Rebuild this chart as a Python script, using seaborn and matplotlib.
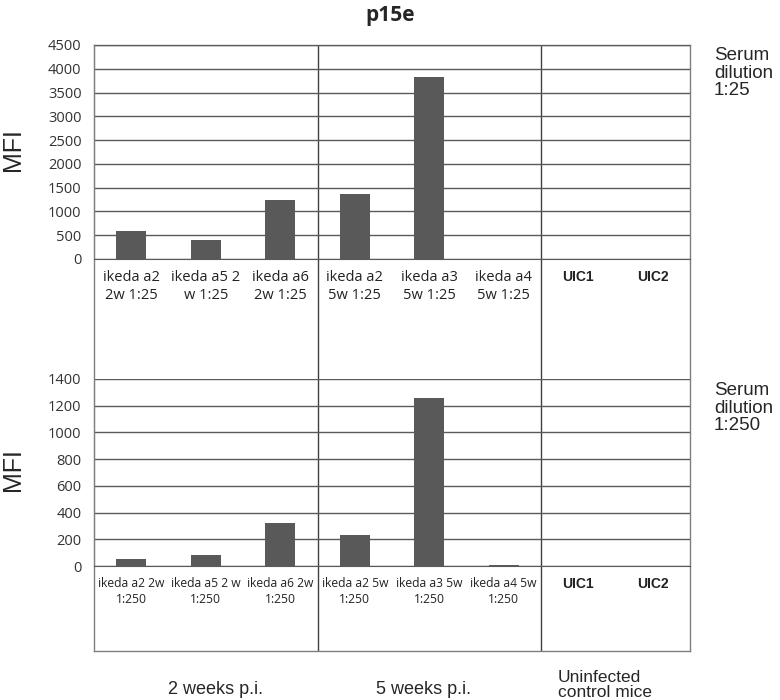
import numpy as np
import pandas as pd
import matplotlib
matplotlib.use("Agg")
import matplotlib.pyplot as plt
import seaborn as sns

# Datos
labels_125 = ["ikeda a2\n2w 1:25", "ikeda a5 2\nw 1:25", "ikeda a6\n2w 1:25",
              "ikeda a2\n5w 1:25", "ikeda a3\n5w 1:25", "ikeda a4\n5w 1:25",
              "UIC1", "UIC2"]
mfi_125 = [580, 390, 1240, 1360, 3830, 10, 0, 0]

labels_1250 = ["ikeda a2 2w\n1:250", "ikeda a5 2 w\n1:250", "ikeda a6 2w\n1:250",
               "ikeda a2 5w\n1:250", "ikeda a3 5w\n1:250", "ikeda a4 5w\n1:250",
               "UIC1", "UIC2"]
mfi_1250 = [55, 85, 325, 235, 1255, 5, 3, 3]

ticks_125 = np.arange(0, 4501, 500)
ticks_1250 = np.arange(0, 1401, 200)

groups = ["2 weeks p.i.", "5 weeks p.i.", "Uninfected\ncontrol mice"]

sns.set_style("white")
plt.rcParams['font.family'] = ['Open Sans', 'DejaVu Sans']

W, H = 780, 700
fig = plt.figure(figsize=(W / 100, H / 100), dpi=100)


def rect(x0, y0, x1, y1):
    return [x0 / W, 1 - y1 / H, (x1 - x0) / W, (y1 - y0) / H]


bar_color = "#595959"
grid_color = "#5a5a5a"
sep_color = "#404040"

# Marco general con separadores de grupo
frame = fig.add_axes(rect(94, 45, 690, 651))
frame.set_xlim(-0.5, 7.5)
frame.set_ylim(0, 1)
frame.set_xticks([])
frame.set_yticks([])
for s in frame.spines.values():
    s.set_color("#7f7f7f")
    s.set_linewidth(1)
for xb in [2.5, 5.5]:
    frame.axvline(xb, color=sep_color, lw=1)


def panel(box, labels, values, ticks, fs):
    ax = fig.add_axes(rect(*box))
    ax.patch.set_alpha(0)
    df = pd.DataFrame({"cat": labels, "mfi": values})
    sns.barplot(data=df, x="cat", y="mfi", order=labels, color=bar_color,
                width=0.4, saturation=1, linewidth=0, ax=ax)
    ax.set_xlim(-0.5, 7.5)
    ax.set_ylim(ticks[0], ticks[-1])
    ax.set_yticks(ticks)
    ax.set_xlabel("")
    ax.set_ylabel("")
    for t in ticks:
        ax.axhline(t, color=grid_color, lw=1, zorder=0)
    ax.set_xticks(np.arange(-0.5, 8, 1), minor=True)
    ax.tick_params(axis="x", which="major", length=0, pad=8)
    ax.tick_params(axis="x", which="minor", length=4, direction="out",
                   color=grid_color, width=1)
    ax.tick_params(axis="y", length=4, direction="out", color=grid_color,
                   width=1, labelsize=10.5, labelcolor="#333333", pad=5)
    ax.set_xticks(range(len(labels)))
    ax.set_xticklabels(labels, fontsize=fs, color="#222222", linespacing=1.3)
    for tl in ax.get_xticklabels():
        if tl.get_text().startswith("UIC"):
            tl.set_fontfamily("Liberation Sans")
            tl.set_fontweight("bold")
            tl.set_fontsize(10)
    for side in ["top", "right"]:
        ax.spines[side].set_visible(False)
    ax.spines["left"].set_color("#7f7f7f")
    ax.spines["bottom"].set_color(grid_color)
    return ax


ax1 = panel((94, 45, 690, 259), labels_125, mfi_125, ticks_125, 10.5)
ax2 = panel((94, 379, 690, 566), labels_1250, mfi_1250, ticks_1250, 8.7)

# Textos
fig.text(390 / W, 1 - 16 / H, "p15e", ha="center", va="center",
         fontsize=15, fontweight="bold")
for yc in [150, 470]:
    fig.text(13 / W, 1 - yc / H, "MFI", rotation=90, ha="center", va="center",
             fontsize=18, family="Liberation Sans")
fig.text(714 / W, 1 - 47 / H, "Serum\ndilution\n1:25", ha="left", va="top",
         fontsize=13.5, family="Liberation Sans", linespacing=1.05)
fig.text(714 / W, 1 - 382 / H, "Serum\ndilution\n1:250", ha="left", va="top",
         fontsize=13.5, family="Liberation Sans", linespacing=1.05)

fig.text(216 / W, 1 - 690 / H, groups[0], ha="center", va="center",
         fontsize=13, family="Liberation Sans")
fig.text(424 / W, 1 - 690 / H, groups[1], ha="center", va="center",
         fontsize=13, family="Liberation Sans")
fig.text(558 / W, 1 - 685 / H, groups[2], ha="left", va="center",
         fontsize=12.5, family="Liberation Sans", linespacing=1.0)

fig.savefig("out.png", dpi=100)
